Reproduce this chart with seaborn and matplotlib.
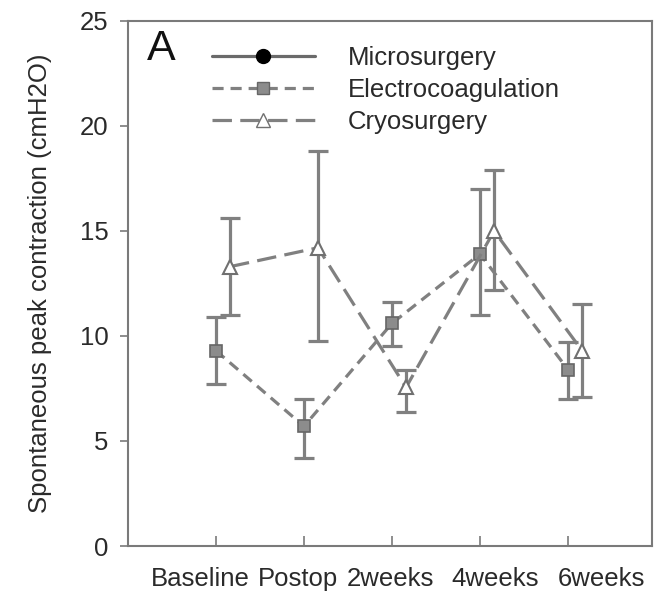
import matplotlib
matplotlib.use("Agg")
import numpy as np
import pandas as pd
import seaborn as sns
import matplotlib.pyplot as plt
from matplotlib.lines import Line2D
from matplotlib.transforms import ScaledTranslation

# ---- data ----
timepoints = ["Baseline", "Postop", "2weeks", "4weeks", "6weeks"]
series_names = ["Microsurgery", "Electrocoagulation", "Cryosurgery"]

electro_mean = [9.3, 5.7, 10.6, 13.9, 8.4]
electro_upper = [10.9, 7.0, 11.6, 17.0, 9.7]
electro_lower = [7.7, 4.2, 9.5, 11.0, 7.0]

cryo_mean = [13.3, 14.2, 7.55, 15.0, 9.3]
cryo_upper = [15.6, 18.8, 8.4, 17.9, 11.5]
cryo_lower = [11.0, 9.75, 6.4, 12.2, 7.1]

# ---- style ----
sns.set_style("ticks")
plt.rcParams["font.family"] = ["Liberation Sans", "DejaVu Sans"]
plt.rcParams["lines.scale_dashes"] = False

GRAY = "#808080"
TEXT = "#2a2a2a"
SPINE = "#7a7a7a"
LW = 2.3

fig = plt.figure(figsize=(6.56, 5.92), dpi=100)
ax = fig.add_axes([0.195, 0.0777, 0.799, 0.887])

pos = np.arange(len(timepoints))
electro_x = pos + 0.0
cryo_x = pos + 0.16

df_e = pd.DataFrame({"x": electro_x, "y": electro_mean})
df_c = pd.DataFrame({"x": cryo_x, "y": cryo_mean})

# error bars
ax.errorbar(electro_x, electro_mean,
            yerr=[np.array(electro_mean) - np.array(electro_lower),
                  np.array(electro_upper) - np.array(electro_mean)],
            fmt="none", ecolor=GRAY, elinewidth=LW, capsize=7, capthick=LW, zorder=2)
ax.errorbar(cryo_x, cryo_mean,
            yerr=[np.array(cryo_mean) - np.array(cryo_lower),
                  np.array(cryo_upper) - np.array(cryo_mean)],
            fmt="none", ecolor=GRAY, elinewidth=LW, capsize=7, capthick=LW, zorder=2)

e_ls = (0, (8, 5))
c_ls = (0, (14, 6))
sns.lineplot(data=df_e, x="x", y="y", ax=ax, color=GRAY, linewidth=LW,
             linestyle=e_ls, marker="s", markersize=9, markerfacecolor="#8c8c8c",
             markeredgecolor="#666666", markeredgewidth=1.2, zorder=3)
sns.lineplot(data=df_c, x="x", y="y", ax=ax, color=GRAY, linewidth=LW,
             linestyle=c_ls, marker="^", markersize=10, markerfacecolor="white",
             markeredgecolor="#707070", markeredgewidth=1.5, zorder=3)

# axes
ax.set_xlim(-1, 4.955)
ax.set_ylim(0, 25)
ax.set_yticks(np.arange(0, 26, 5))
ax.set_xticks(pos)
ax.set_xticklabels(timepoints)
ax.set_xlabel("")
ax.set_ylabel("Spontaneous peak contraction (cmH2O)", fontsize=18.5, color=TEXT, labelpad=20)
ax.tick_params(axis="y", direction="out", length=6, width=1.2, color=SPINE,
               labelsize=18.5, labelcolor=TEXT, pad=8)
ax.tick_params(axis="x", direction="in", length=7, width=1.2, color=SPINE,
               labelsize=18.5, labelcolor=TEXT, pad=15)
for s in ax.spines.values():
    s.set_visible(True)
    s.set_color(SPINE)
    s.set_linewidth(1.5)

# spread x labels as in the reference
offsets_px = [-16, -6, -2, 15, 33]
for lab, dx in zip(ax.get_xticklabels(), offsets_px):
    lab.set_transform(lab.get_transform() + ScaledTranslation(dx / 100, 0, fig.dpi_scale_trans))

# legend
handles = [
    Line2D([], [], color="#6a6a6a", linewidth=LW, marker="o", markersize=10,
           markerfacecolor="black", markeredgecolor="black"),
    Line2D([], [], color=GRAY, linewidth=LW, linestyle=(0, (8, 5)), marker="s",
           markersize=9, markerfacecolor="#8c8c8c", markeredgecolor="#666666"),
    Line2D([], [], color=GRAY, linewidth=LW, linestyle=(0, (14, 6)), marker="^",
           markersize=10, markerfacecolor="white", markeredgecolor="#707070"),
]
leg = ax.legend(handles, series_names, loc="upper left", bbox_to_anchor=(0.16, 0.953),
                frameon=False, borderaxespad=0, borderpad=0, handlelength=4,
                handletextpad=1.3, labelspacing=0.31, fontsize=18.5)
for t in leg.get_texts():
    t.set_color(TEXT)

ax.text(0.036, 0.985, "A", transform=ax.transAxes, fontsize=31, va="top", ha="left", color="#111111")

fig.savefig("out.png", dpi=100)
